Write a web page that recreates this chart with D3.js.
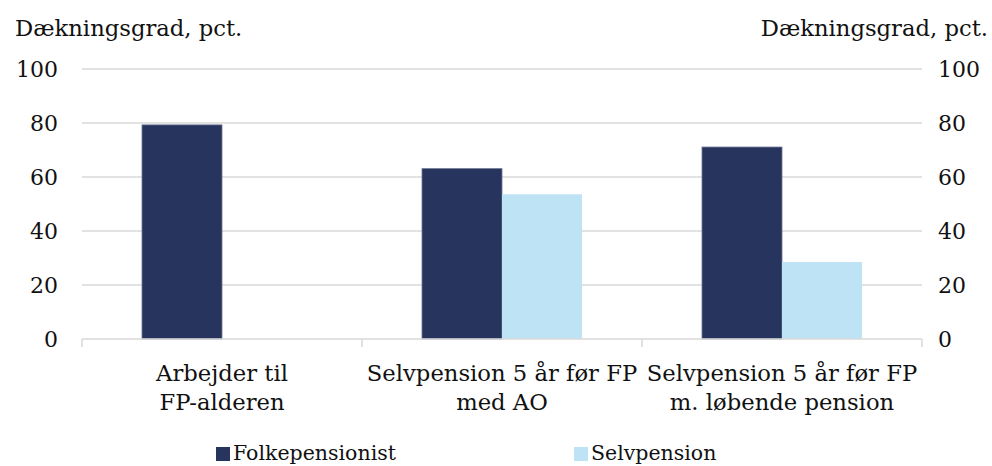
<!DOCTYPE html>
<html>
<head>
<meta charset="utf-8">
<script src="https://cdn.jsdelivr.net/npm/d3@7"></script>
<style>
  html, body { margin: 0; padding: 0; background: #fff; }
  svg { display: block; }
  text { font-family: "DejaVu Serif", "Liberation Serif", serif; fill: #111; }
</style>
</head>
<body>
<svg id="chart" width="992" height="466"></svg>
<script>
// Coverage rates (pct.) by scenario
const categories = [
  ["Arbejder til", "FP-alderen"],
  ["Selvpension 5 år før FP", "med AO"],
  ["Selvpension 5 år før FP", "m. løbende pension"]
];
const seriesNames = ["Folkepensionist", "Selvpension"];
const folkepensionist = [79.3, 63.1, 71.1];
const selvpension = [null, 53.6, 28.5];
const yTicks = [0, 20, 40, 60, 80, 100];
const axisTitle = "Dækningsgrad, pct.";
const colors = ["#27355e", "#bde3f5"];

const svg = d3.select("#chart");
const margin = { left: 82, right: 70, top: 69, bottom: 127 };
const W = 992, H = 466;
const fontMain = "22.7px";

const x0 = d3.scaleBand()
  .domain(d3.range(categories.length))
  .range([margin.left, W - margin.right])
  .paddingInner(0)
  .paddingOuter(0);
// each pair of bars fills the middle 160/280 of its category band
const inset = 60 / 280 * x0.bandwidth();
const x1 = d3.scaleBand()
  .domain(d3.range(seriesNames.length))
  .range([inset, x0.bandwidth() - inset])
  .padding(0);

const y = d3.scaleLinear().domain([0, 100]).range([H - margin.bottom, margin.top]);

// gridlines
svg.append("g")
  .selectAll("line")
  .data(yTicks.filter(d => d > 0))
  .join("line")
  .attr("x1", margin.left).attr("x2", W - margin.right)
  .attr("y1", d => y(d)).attr("y2", d => y(d))
  .attr("stroke", "#d9d9d9").attr("stroke-width", 1.5);

// bars
const series = [folkepensionist, selvpension];
const bars = [];
series.forEach((vals, s) => vals.forEach((v, i) => { if (v != null) bars.push({ s, i, v }); }));
svg.append("g")
  .selectAll("rect")
  .data(bars)
  .join("rect")
  .attr("x", d => x0(d.i) + x1(d.s))
  .attr("width", x1.bandwidth())
  .attr("y", d => y(d.v))
  .attr("height", d => y(0) - y(d.v))
  .attr("fill", d => colors[d.s])
  .attr("stroke", d => d.s === 0 ? "#6b7591" : "none")
  .attr("stroke-width", 0.8);

// x axis
const xAxis = svg.append("g").attr("transform", `translate(0,${y(0)})`);
xAxis.append("line")
  .attr("x1", margin.left).attr("x2", W - margin.right)
  .attr("stroke", "#d9d9d9").attr("stroke-width", 1.5);
const bounds = d3.range(categories.length + 1).map(i =>
  i < categories.length ? x0(i) : x0(i - 1) + x0.bandwidth());
xAxis.selectAll("line.tick")
  .data(bounds)
  .join("line").attr("class", "tick")
  .attr("x1", d => d).attr("x2", d => d)
  .attr("y1", 0).attr("y2", 8)
  .attr("stroke", "#d9d9d9").attr("stroke-width", 1.5);

const catLabels = svg.append("g")
  .selectAll("text")
  .data(categories)
  .join("text")
  .attr("x", (d, i) => x0(i) + x0.bandwidth() / 2)
  .attr("y", 381)
  .attr("text-anchor", "middle")
  .style("font-size", fontMain);
catLabels.selectAll("tspan")
  .data(d => d)
  .join("tspan")
  .attr("x", function () { return this.parentNode.getAttribute("x"); })
  .attr("dy", (d, j) => j === 0 ? 0 : 29)
  .text(d => d);

// y axes (left and right)
svg.append("g").selectAll("text")
  .data(yTicks).join("text")
  .attr("x", 58).attr("y", d => y(d) + 8)
  .attr("text-anchor", "end")
  .style("font-size", "22px")
  .text(d => d);
svg.append("g").selectAll("text")
  .data(yTicks).join("text")
  .attr("x", 938).attr("y", d => y(d) + 8)
  .attr("text-anchor", "start")
  .style("font-size", "22px")
  .text(d => d);

// axis titles
svg.append("text").attr("x", 15).attr("y", 36)
  .style("font-size", fontMain).text(axisTitle);
svg.append("text").attr("x", 988).attr("y", 36)
  .attr("text-anchor", "end")
  .style("font-size", fontMain).text(axisTitle);

// legend
const legendX = [216, 574];
const legend = svg.append("g").selectAll("g")
  .data(seriesNames).join("g")
  .attr("transform", (d, i) => `translate(${legendX[i]},447)`);
legend.append("rect").attr("width", 14).attr("height", 14)
  .attr("fill", (d, i) => colors[i]);
legend.append("text").attr("x", 17).attr("y", 13)
  .style("font-size", "20.5px").text(d => d);
</script>
</body>
</html>
